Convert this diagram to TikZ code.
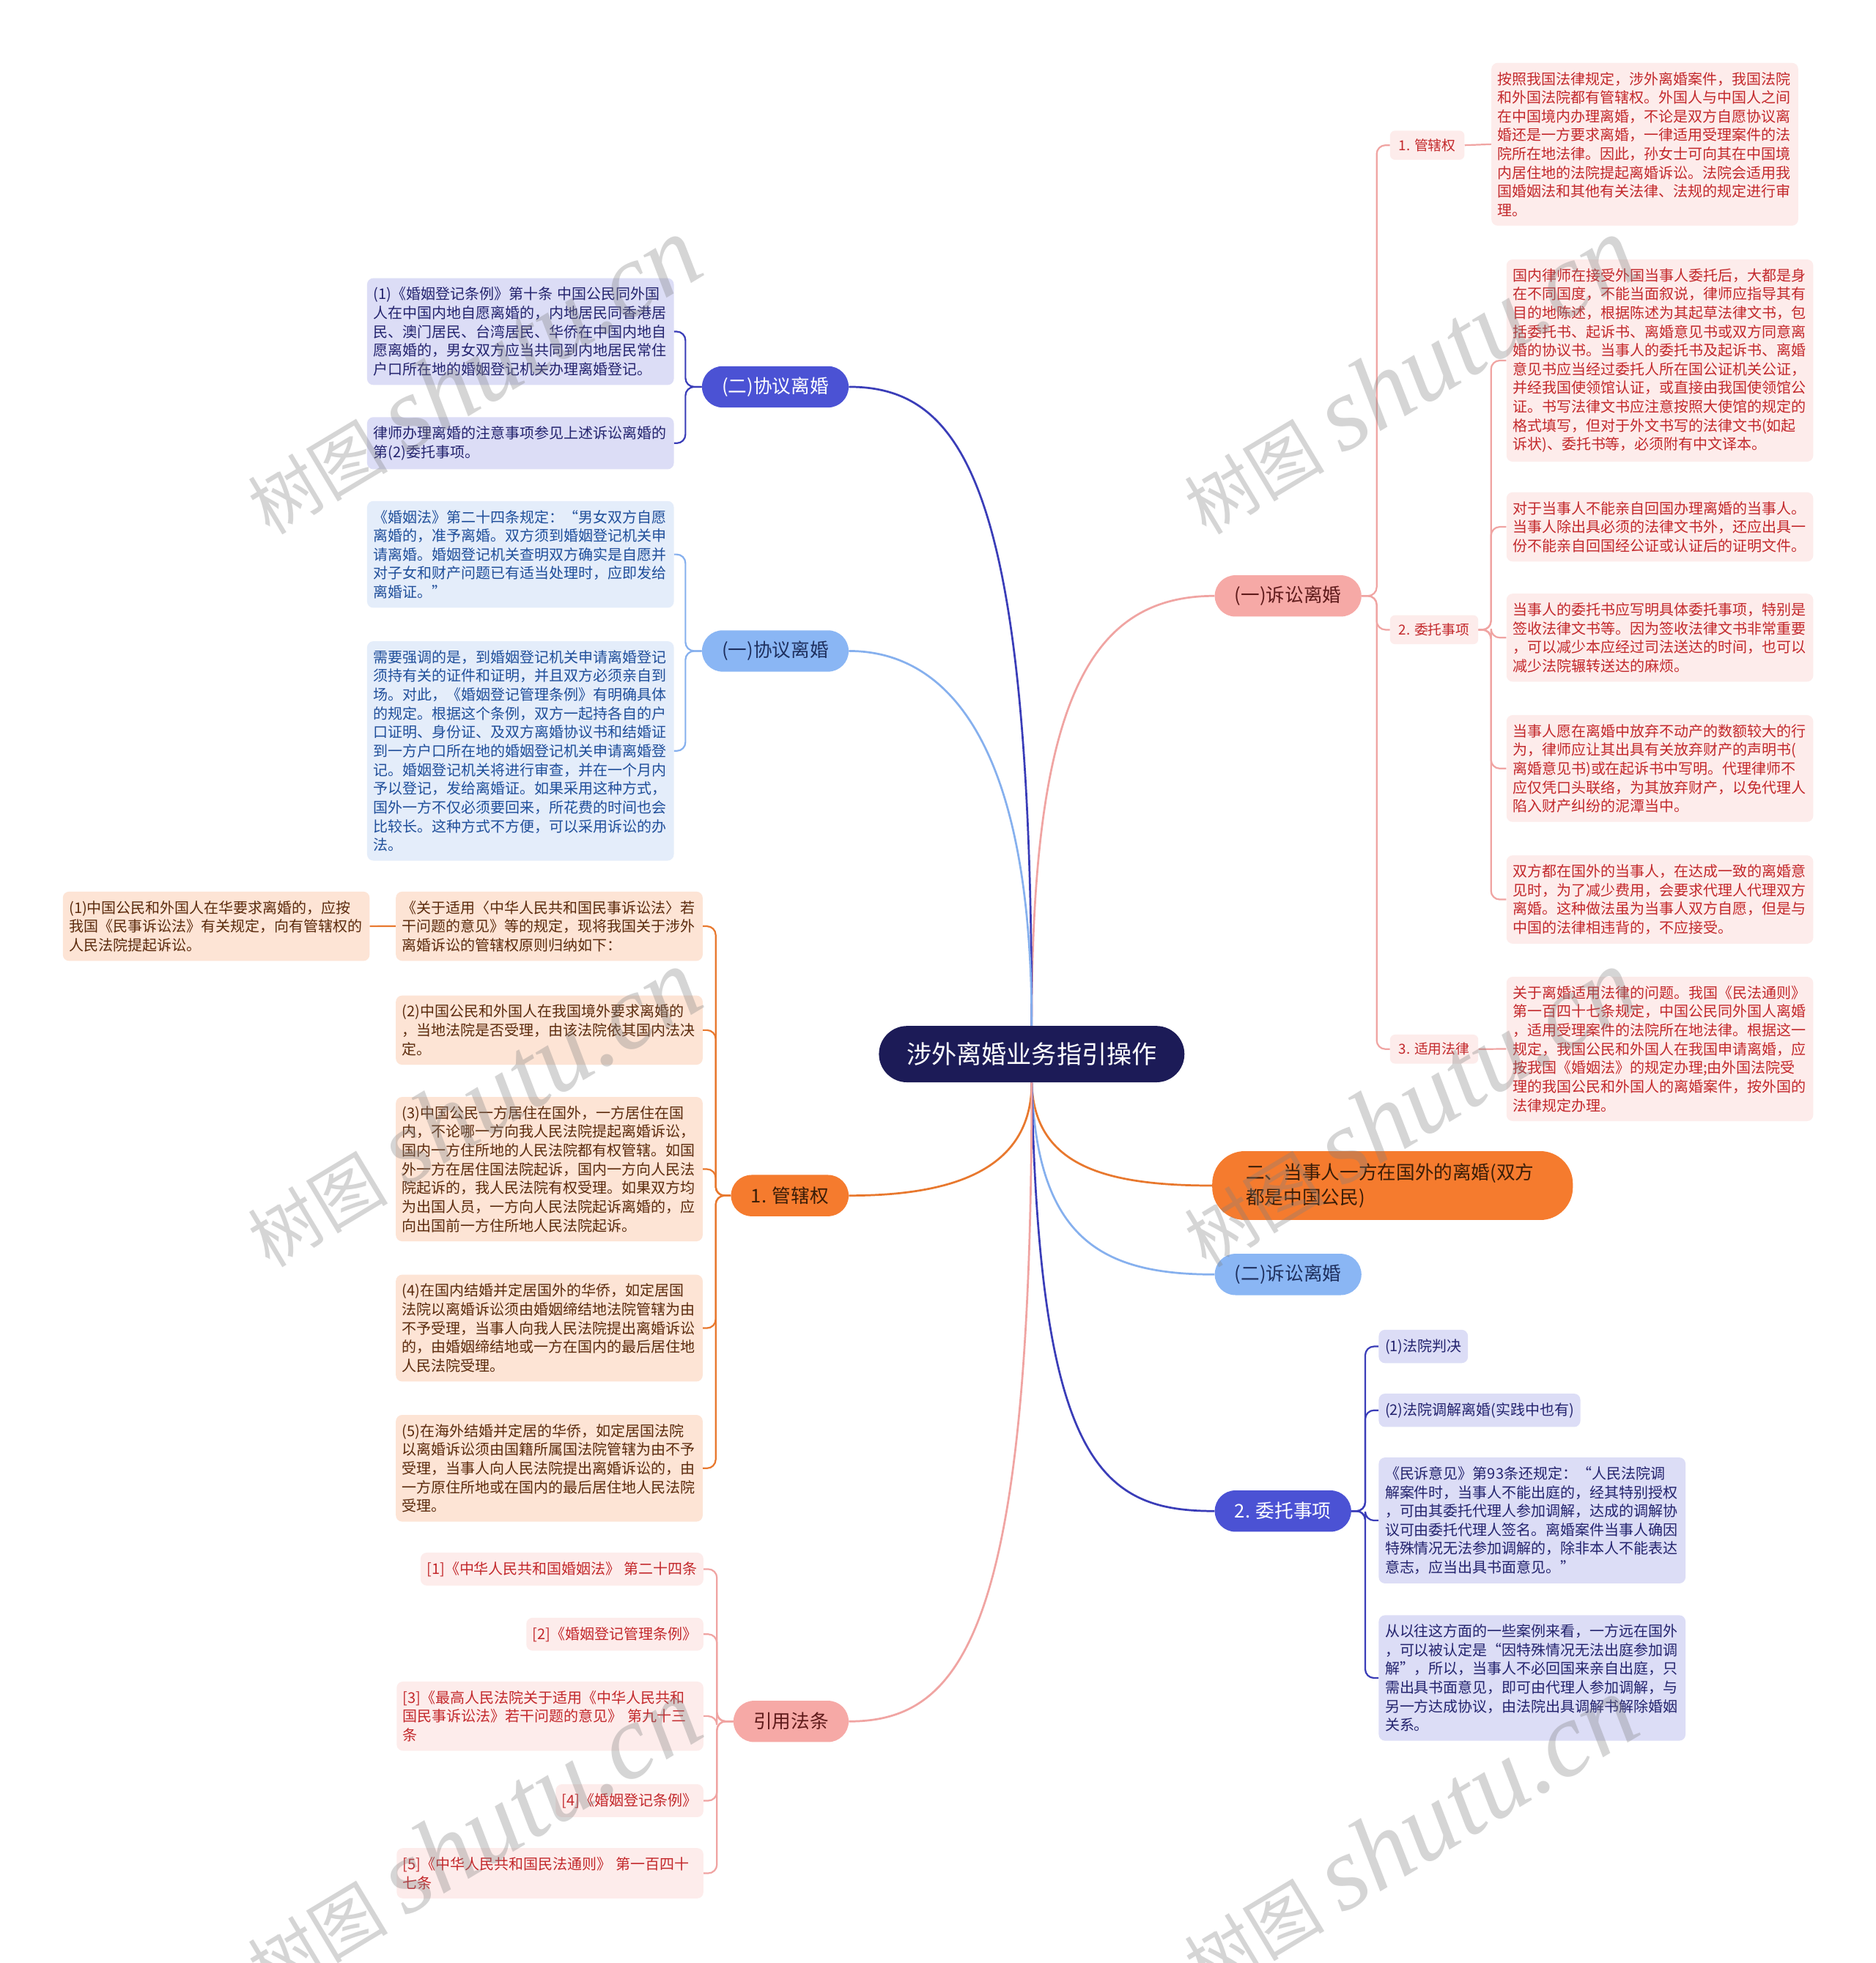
\documentclass[tikz,border=0pt]{standalone}
\usepackage{fontspec}
\setmainfont{Noto Sans CJK SC}
\newfontfamily\wmfont{Liberation Serif}
\definecolor{navy}{HTML}{1C1B57}
\definecolor{mpinkbg}{HTML}{F6A9A6}
\definecolor{mpinktx}{HTML}{5E1A1A}
\definecolor{mbluebg}{HTML}{4B52D4}
\definecolor{mlbbg}{HTML}{8AB6F4}
\definecolor{mlbtx}{HTML}{1E2F5E}
\definecolor{morbg}{HTML}{F57B2E}
\definecolor{mortx}{HTML}{3A1D08}
\definecolor{pinkln}{HTML}{F0A4A2}
\definecolor{blueln}{HTML}{3A3DB8}
\definecolor{lbln}{HTML}{86B0EE}
\definecolor{orln}{HTML}{E8782E}
\definecolor{pleafbg}{HTML}{FDECEB}
\definecolor{pleaftx}{HTML}{C3282B}
\definecolor{bleafbg}{HTML}{DCDDF6}
\definecolor{bleaftx}{HTML}{23236E}
\definecolor{lleafbg}{HTML}{E4EDFA}
\definecolor{lleaftx}{HTML}{1F4E9A}
\definecolor{oleafbg}{HTML}{FDE4D5}
\definecolor{oleaftx}{HTML}{5B2A0C}
\begin{document}
\begin{tikzpicture}[x=1pt,y=-1pt,
  mainnode/.style={rounded corners=16.5pt, minimum height=33pt, inner xsep=16pt, inner ysep=0pt, font=\fontsize{15}{18}\selectfont},
  mpink/.style={mainnode, fill=mpinkbg, text=mpinktx},
  mblue/.style={mainnode, fill=mbluebg, text=white},
  mlb/.style={mainnode, fill=mlbbg, text=mlbtx},
  mor/.style={mainnode, fill=morbg, text=mortx},
  leaf/.style={rounded corners=5pt, inner xsep=5pt, inner ysep=7.2pt, font=\fontsize{11.7}{15}\selectfont, align=left},
  wleaf/.style={leaf, text width=235pt},
  pleaf/.style={fill=pleafbg, text=pleaftx},
  bleaf/.style={fill=bleafbg, text=bleaftx},
  lleaf/.style={fill=lleafbg, text=lleaftx},
  oleaf/.style={fill=oleafbg, text=oleaftx},
  sublab/.style={fill=pleafbg, text=pleaftx, rounded corners=4pt, inner xsep=7pt, inner ysep=6.5pt, font=\fontsize{11}{13}\selectfont},
  conn/.style={line width=1.3pt, rounded corners=7pt},
  mconn/.style={line width=1.6pt},
  wm/.style={text=gray, text opacity=0.33, rotate=31},
]
\useasboundingbox (0,0) rectangle (1498,1568);
\fill[white] (0,0) rectangle (1498,1568);

% center
\node[fill=navy, text=white, rounded corners=22.5pt, minimum width=244pt, minimum height=45pt, font=\fontsize{20}{24}\selectfont] (c) at (824,842) {涉外离婚业务指引操作};

% main branches
\node[mpink, anchor=west] (ssl) at (970,476) {(一)诉讼离婚};
\node[mblue, anchor=east] (xy2) at (678,309) {(二)协议离婚};
\node[mlb, anchor=east] (xy1) at (678,520) {(一)协议离婚};
\node[mor, anchor=east] (gx) at (678,955) {1. 管辖权};
\node[mpink, anchor=east] (yf) at (678,1375) {引用法条};
\node[mor, anchor=west, rounded corners=26pt, text width=234pt, align=left, inner xsep=27pt, inner ysep=8pt, font=\fontsize{15}{20}\selectfont, minimum height=55pt] (two) at (968,947) {二、当事人一方在国外的离婚(双方\\都是中国公民)};
\node[mlb, anchor=west] (ss2) at (970,1018) {(二)诉讼离婚};
\node[mblue, anchor=west] (wt) at (970,1207) {2. 委托事项};

% right: (一)诉讼离婚
\node[sublab, anchor=west] (r1) at (1110,116) {1. 管辖权};
\node[sublab, anchor=west] (r2) at (1110,503) {2. 委托事项};
\node[sublab, anchor=west] (r3) at (1110,838) {3. 适用法律};

\node[wleaf, pleaf, anchor=north west] (l1) at (1191,50) {按照我国法律规定，涉外离婚案件，我国法院\\和外国法院都有管辖权。外国人与中国人之间\\在中国境内办理离婚，不论是双方自愿协议离\\婚还是一方要求离婚，一律适用受理案件的法\\院所在地法律。因此，孙女士可向其在中国境\\内居住地的法院提起离婚诉讼。法院会适用我\\国婚姻法和其他有关法律、法规的规定进行审\\理。};
\node[wleaf, pleaf, anchor=north west] (la) at (1203,207) {国内律师在接受外国当事人委托后，大都是身\\在不同国度，不能当面叙说，律师应指导其有\\目的地陈述，根据陈述为其起草法律文书，包\\括委托书、起诉书、离婚意见书或双方同意离\\婚的协议书。当事人的委托书及起诉书、离婚\\意见书应当经过委托人所在国公证机关公证，\\并经我国使领馆认证，或直接由我国使领馆公\\证。书写法律文书应注意按照大使馆的规定的\\格式填写，但对于外文书写的法律文书(如起\\诉状)、委托书等，必须附有中文译本。};
\node[wleaf, pleaf, anchor=north west] (lb) at (1203,393) {对于当事人不能亲自回国办理离婚的当事人。\\当事人除出具必须的法律文书外，还应出具一\\份不能亲自回国经公证或认证后的证明文件。};
\node[wleaf, pleaf, anchor=north west] (lc) at (1203,474) {当事人的委托书应写明具体委托事项，特别是\\签收法律文书等。因为签收法律文书非常重要\\，可以减少本应经过司法送达的时间，也可以\\减少法院辗转送达的麻烦。};
\node[wleaf, pleaf, anchor=north west] (ld) at (1203,571) {当事人愿在离婚中放弃不动产的数额较大的行\\为，律师应让其出具有关放弃财产的声明书(\\离婚意见书)或在起诉书中写明。代理律师不\\应仅凭口头联络，为其放弃财产，以免代理人\\陷入财产纠纷的泥潭当中。};
\node[wleaf, pleaf, anchor=north west] (le) at (1203,683) {双方都在国外的当事人，在达成一致的离婚意\\见时，为了减少费用，会要求代理人代理双方\\离婚。这种做法虽为当事人双方自愿，但是与\\中国的法律相违背的，不应接受。};
\node[wleaf, pleaf, anchor=north west] (l3) at (1203,780) {关于离婚适用法律的问题。我国《民法通则》\\第一百四十七条规定，中国公民同外国人离婚\\，适用受理案件的法院所在地法律。根据这一\\规定，我国公民和外国人在我国申请离婚，应\\按我国《婚姻法》的规定办理;由外国法院受\\理的我国公民和外国人的离婚案件，按外国的\\法律规定办理。};

% left: (二)协议离婚
\node[wleaf, bleaf, anchor=north west] (xa) at (293,222) {(1)《婚姻登记条例》第十条 中国公民同外国\\人在中国内地自愿离婚的，内地居民同香港居\\民、澳门居民、台湾居民、华侨在中国内地自\\愿离婚的，男女双方应当共同到内地居民常住\\户口所在地的婚姻登记机关办理离婚登记。};
\node[wleaf, bleaf, anchor=north west] (xb) at (293,333) {律师办理离婚的注意事项参见上述诉讼离婚的\\第(2)委托事项。};

% left: (一)协议离婚
\node[wleaf, lleaf, anchor=north west] (ya) at (293,400) {《婚姻法》第二十四条规定：“男女双方自愿\\离婚的，准予离婚。双方须到婚姻登记机关申\\请离婚。婚姻登记机关查明双方确实是自愿并\\对子女和财产问题已有适当处理时，应即发给\\离婚证。”};
\node[wleaf, lleaf, anchor=north west] (yb) at (293,512) {需要强调的是，到婚姻登记机关申请离婚登记\\须持有关的证件和证明，并且双方必须亲自到\\场。对此，《婚姻登记管理条例》有明确具体\\的规定。根据这个条例，双方一起持各自的户\\口证明、身份证、及双方离婚协议书和结婚证\\到一方户口所在地的婚姻登记机关申请离婚登\\记。婚姻登记机关将进行审查，并在一个月内\\予以登记，发给离婚证。如果采用这种方式，\\国外一方不仅必须要回来，所花费的时间也会\\比较长。这种方式不方便，可以采用诉讼的办\\法。};

% left: 1. 管辖权
\node[wleaf, oleaf, anchor=north west] (ga) at (316,712) {《关于适用〈中华人民共和国民事诉讼法〉若\\干问题的意见》等的规定，现将我国关于涉外\\离婚诉讼的管辖权原则归纳如下：};
\node[wleaf, oleaf, anchor=north west] (g0) at (50,712) {(1)中国公民和外国人在华要求离婚的，应按\\我国《民事诉讼法》有关规定，向有管辖权的\\人民法院提起诉讼。};
\node[wleaf, oleaf, anchor=north west] (gb) at (316,795) {(2)中国公民和外国人在我国境外要求离婚的\\，当地法院是否受理，由该法院依其国内法决\\定。};
\node[wleaf, oleaf, anchor=north west] (gc) at (316,876) {(3)中国公民一方居住在国外，一方居住在国\\内，不论哪一方向我人民法院提起离婚诉讼，\\国内一方住所地的人民法院都有权管辖。如国\\外一方在居住国法院起诉，国内一方向人民法\\院起诉的，我人民法院有权受理。如果双方均\\为出国人员，一方向人民法院起诉离婚的，应\\向出国前一方住所地人民法院起诉。};
\node[wleaf, oleaf, anchor=north west] (gd) at (316,1018) {(4)在国内结婚并定居国外的华侨，如定居国\\法院以离婚诉讼须由婚姻缔结地法院管辖为由\\不予受理，当事人向我人民法院提出离婚诉讼\\的，由婚姻缔结地或一方在国内的最后居住地\\人民法院受理。};
\node[wleaf, oleaf, anchor=north west] (ge) at (316,1130) {(5)在海外结婚并定居的华侨，如定居国法院\\以离婚诉讼须由国籍所属国法院管辖为由不予\\受理，当事人向人民法院提出离婚诉讼的，由\\一方原住所地或在国内的最后居住地人民法院\\受理。};

% left: 引用法条
\node[leaf, pleaf, anchor=north east] (f1) at (562,1240) {[1]《中华人民共和国婚姻法》 第二十四条};
\node[leaf, pleaf, anchor=north east] (f2) at (562,1292) {[2]《婚姻登记管理条例》};
\node[wleaf, pleaf, anchor=north east] (f3) at (562,1343) {[3]《最高人民法院关于适用《中华人民共和\\国民事诉讼法》若干问题的意见》 第九十三\\条};
\node[leaf, pleaf, anchor=north east] (f4) at (562,1425) {[4]《婚姻登记条例》};
\node[wleaf, pleaf, anchor=north east] (f5) at (562,1476) {[5]《中华人民共和国民法通则》 第一百四十\\七条};

% bottom right: 2. 委托事项
\node[leaf, bleaf, anchor=north west] (w1) at (1101,1062) {(1)法院判决};
\node[leaf, bleaf, anchor=north west] (w2) at (1101,1113) {(2)法院调解离婚(实践中也有)};
\node[wleaf, bleaf, anchor=north west] (w3) at (1101,1164) {《民诉意见》第93条还规定：“人民法院调\\解案件时，当事人不能出庭的，经其特别授权\\，可由其委托代理人参加调解，达成的调解协\\议可由委托代理人签名。离婚案件当事人确因\\特殊情况无法参加调解的，除非本人不能表达\\意志，应当出具书面意见。”};
\node[wleaf, bleaf, anchor=north west] (w4) at (1101,1290) {从以往这方面的一些案例来看，一方远在国外\\，可以被认定是“因特殊情况无法出庭参加调\\解”，所以，当事人不必回国来亲自出庭，只\\需出具书面意见，即可由代理人参加调解，与\\另一方达成协议，由法院出具调解书解除婚姻\\关系。};

% main connectors
\draw[mconn, pinkln] (c.north) .. controls (824,560) and (870,476) .. (ssl.west);
\draw[mconn, blueln] (c.north) .. controls (824,390) and (770,309) .. (xy2.east);
\draw[mconn, lbln] (c.north) .. controls (824,600) and (760,520) .. (xy1.east);
\draw[mconn, orln] (c.south) .. controls (824,935) and (760,955) .. (gx.east);
\draw[mconn, orln] (c.south) .. controls (826,930) and (880,947) .. (two.west);
\draw[mconn, lbln] (c.south) .. controls (828,990) and (880,1018) .. (ss2.west);
\draw[mconn, blueln] (c.south) .. controls (830,1170) and (880,1207) .. (wt.west);
\draw[mconn, pinkln] (c.south) .. controls (824,1300) and (770,1375) .. (yf.east);

% brackets
\foreach \t in {r1,r2,r3} \draw[conn, pinkln] (ssl.east) -- +(12,0) |- (\t.west);
\draw[conn, pinkln] (r1.east) -- (l1.west);
\foreach \t in {la,lb,lc,ld,le} \draw[conn, pinkln] (r2.east) -- +(10,0) |- (\t.west);
\draw[conn, pinkln] (r3.east) -- (l3.west);
\foreach \t in {xa,xb} \draw[conn, blueln] (xy2.west) -- +(-13,0) |- (\t.east);
\foreach \t in {ya,yb} \draw[conn, lbln] (xy1.west) -- +(-13,0) |- (\t.east);
\foreach \t in {ga,gb,gc,gd,ge} \draw[conn, orln] (gx.west) -- +(-12,0) |- (\t.east);
\draw[conn, orln] (ga.west) -- (g0.east);
\foreach \t in {f1,f2,f3,f4,f5} \draw[conn, pinkln] (yf.west) -- +(-13,0) |- (\t.east);
\foreach \t in {w1,w2,w3,w4} \draw[conn, blueln] (wt.east) -- +(11,0) |- (\t.west);

% watermarks
\foreach \p in {(377,300),(1125,300),(377,885),(1125,885),(377,1468),(1125,1466)}
  \node[wm] at \p {{\fontsize{56}{56}\selectfont 树图}\hspace{14pt}{\wmfont\itshape\fontsize{84}{84}\selectfont shutu.cn}};
\end{tikzpicture}
\end{document}
